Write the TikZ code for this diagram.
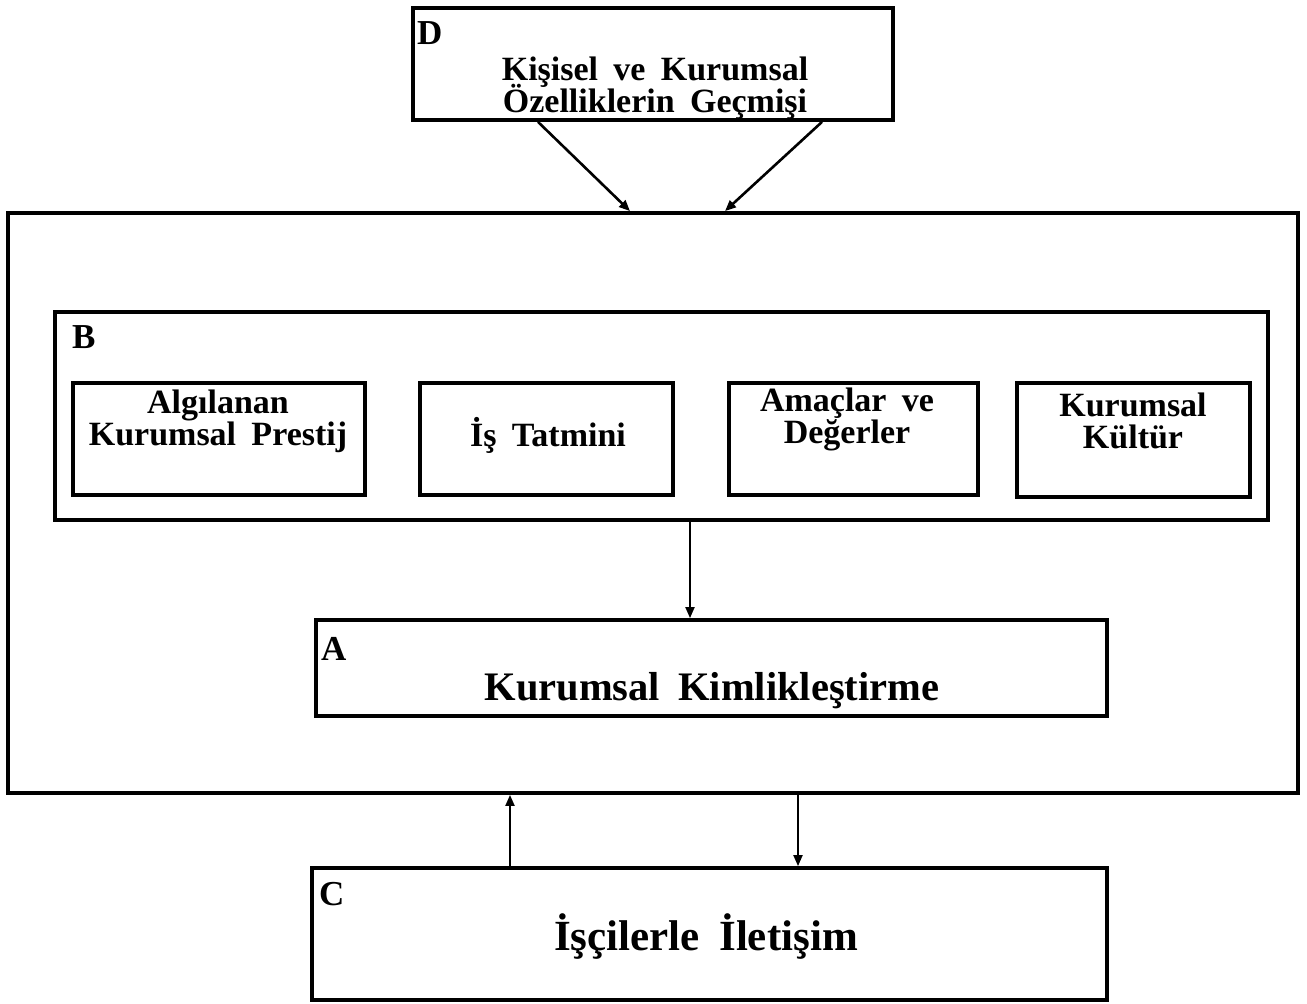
\documentclass[tikz,border=0pt]{standalone}
\usepackage{fontspec}
\setmainfont{Liberation Serif}[WordSpace=1.8]
\usetikzlibrary{arrows.meta}
\newcommand\fixedlines{\lineskiplimit=-60pt\relax}
\begin{document}
\begin{tikzpicture}[x=1pt,y=-1pt,
  box/.style={draw, line width=3.8pt, inner sep=0pt},
  txt/.style={font=\fontsize{34}{32}\selectfont\bfseries\fixedlines, align=center, inner sep=0pt},
  bigtxt/.style={font=\fontsize{40.5}{42}\selectfont\bfseries, inner sep=0pt, anchor=base},
  lbl/.style={font=\fontsize{35}{35}\selectfont\bfseries, inner sep=0pt, anchor=base west},
  arr/.style={line width=2pt, -{Triangle[length=11pt,width=9pt]}},
  diagarr/.style={arr, line width=2.6pt}]
\useasboundingbox (0,0) rectangle (1307,1004);

% D: background of personal and organisational traits
\node[box, minimum width=480pt, minimum height=112pt] (D) at (653,64) {};
\node[lbl] (Dl) at (417,44) {D};
\node[txt] (Dt) at (655,88) {Kişisel ve Kurumsal\\Özelliklerin Geçmişi};

% outer frame holding B and A
\node[box, minimum width=1290pt, minimum height=580pt] (outer) at (653,503) {};

% B: antecedents
\node[box, minimum width=1213pt, minimum height=208pt] (B) at (661.5,416) {};
\node[lbl] (Bl) at (72,348) {B};

\node[box, minimum width=292pt, minimum height=112pt] (p1) at (219,439) {};
\node[txt] (p1t) at (218,421) {Algılanan\\Kurumsal Prestij};
\node[box, minimum width=253pt, minimum height=112pt] (p2) at (546.5,439) {};
\node[txt, anchor=base] (p2t) at (548,446) {İş Tatmini};
\node[box, minimum width=249pt, minimum height=112pt] (p3) at (853.5,439) {};
\node[txt] (p3t) at (847,419) {Amaçlar ve\\Değerler};
\node[box, minimum width=233pt, minimum height=114pt] (p4) at (1133.5,440) {};
\node[txt] (p4t) at (1133,421) {Kurumsal\\Kültür};

% A: organisational identification
\node[box, minimum width=791pt, minimum height=96pt] (A) at (711.5,668) {};
\node[lbl] (Al) at (321,660) {A};
\node[bigtxt] (At) at (712,700) {Kurumsal Kimlikleştirme};

% C: communication with employees
\node[box, minimum width=795pt, minimum height=132pt] (C) at (709.5,934) {};
\node[lbl] (Cl) at (319,905) {C};
\node[bigtxt, font=\fontsize{43}{43}\selectfont\bfseries] (Ct) at (706,950) {İşçilerle İletişim};

% connectors
\draw[diagarr] ([xshift=-115pt]D.south) -- ([xshift=-23pt]outer.north);
\draw[diagarr] ([xshift=169pt]D.south) -- ([xshift=72pt]outer.north);
\draw[arr] ([xshift=28.5pt]B.south) -- ([xshift=-21.5pt]A.north);
\draw[arr] ([xshift=-199.5pt]C.north) -- ([xshift=-143pt]outer.south);
\draw[arr] ([xshift=145pt]outer.south) -- ([xshift=88.5pt]C.north);
\end{tikzpicture}
\end{document}
